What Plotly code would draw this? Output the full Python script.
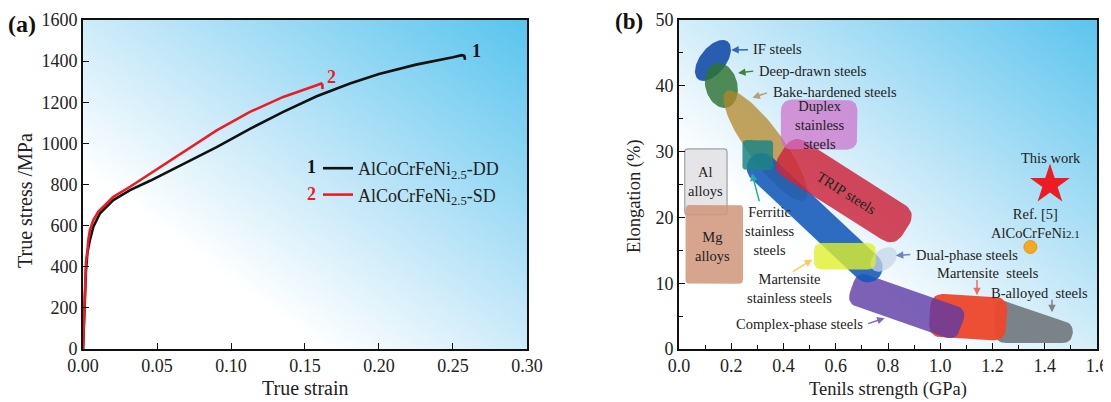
import base64
import numpy as np
import plotly.graph_objects as go

# ------------------------------------------------------------------
# Panel (a): true stress-strain curves
# ------------------------------------------------------------------
strain_dd = [0, 0.001, 0.002, 0.003, 0.0038, 0.0047, 0.007, 0.0115, 0.0205, 0.0318,
             0.0453, 0.0678, 0.0903, 0.1128, 0.1353, 0.1579, 0.1804, 0.20, 0.225, 0.25,
             0.2559, 0.2576, 0.2582]
stress_dd = [0, 200, 380, 470, 505, 531, 595, 660, 724, 773,
             818, 901, 982, 1071, 1153, 1229, 1291, 1337, 1383, 1419,
             1429, 1426, 1407]
strain_sd = [0, 0.001, 0.002, 0.003, 0.0036, 0.0047, 0.007, 0.0104, 0.0205, 0.0318,
             0.0453, 0.0678, 0.0903, 0.1128, 0.1353, 0.1579, 0.1610, 0.1617, 0.1619]
stress_sd = [0, 220, 420, 480, 531, 579, 627, 668, 740, 789,
             852, 958, 1063, 1153, 1226, 1283, 1291, 1286, 1264]
name_dd = "AlCoCrFeNi<sub>2.5</sub>-DD"
name_sd = "AlCoCrFeNi<sub>2.5</sub>-SD"
a_xticks = [0.00, 0.05, 0.10, 0.15, 0.20, 0.25, 0.30]
a_yticks = [0, 200, 400, 600, 800, 1000, 1200, 1400, 1600]
a_xtitle = "True strain"
a_ytitle = "True stress /MPa"

# ------------------------------------------------------------------
# Panel (b): elongation vs tensile strength map (GPa, %)
# ------------------------------------------------------------------
rect_names = ["Al alloys", "Mg alloys", "Duplex stainless steels",
              "Ferritic stainless steels", "Martensite stainless steels"]
rect_x0 = [0.022, 0.025, 0.390, 0.243, 0.517]
rect_x1 = [0.184, 0.245, 0.683, 0.360, 0.753]
rect_y0 = [20.4, 9.9, 30.3, 27.2, 12.1]
rect_y1 = [30.4, 21.9, 37.9, 31.75, 16.1]

ell_names = ["IF steels", "Deep-drawn steels", "Bake-hardened steels"]
ell_x = [0.130, 0.162, 0.331]
ell_y = [43.85, 40.07, 30.9]

trip_x = [0.437, 0.911, 0.825, 0.351]
trip_y = [32.72, 20.77, 15.42, 27.37]
complex_x = [0.682, 1.103, 1.061, 0.640]
complex_y = [11.80, 6.06, 1.20, 6.94]
mart_x = [0.964, 1.259, 1.250, 0.955]
mart_y = [8.46, 7.86, 1.21, 1.82]
balloy_x = [1.208, 1.511, 1.503, 1.208]
balloy_y = [7.79, 3.78, 0.91, 0.91]
dual_x = [0.3166, 0.7224]
dual_y = [27.52, 12.40]

this_work_x, this_work_y = [1.42], [25.0]
ref5_x, ref5_y = [1.345], [15.5]

b_xticks = [0.0, 0.2, 0.4, 0.6, 0.8, 1.0, 1.2, 1.4, 1.6]
b_yticks = [0, 10, 20, 30, 40, 50]
b_xtitle = "Tenils strength (GPa)"
b_ytitle = "Elongation (%)"

# ------------------------------------------------------------------
# layout geometry (the page body has an 8px margin)
# ------------------------------------------------------------------
OFF = 8
W, H = 1111 - OFF, 402 - OFF


def pxx(x):
    return (x - OFF) / W


def pxy(y):
    return 1 - (y - OFF) / H


DOM_Y = [pxy(349), pxy(20)]
DOM_XA = [pxx(83), pxx(527)]
DOM_XB = [pxx(679), pxx(1097)]
SXB = (DOM_XB[1] - DOM_XB[0]) * W / 1.6      # px per GPa
SYB = (DOM_Y[1] - DOM_Y[0]) * H / 50.0       # px per %

FONT = "Liberation Serif, Times New Roman, serif"


def px(v, e):
    return np.array([v * SXB, e * SYB], float)


def to_data(pts):
    pts = np.array(pts)
    return list(pts[:, 0] / SXB), list(pts[:, 1] / SYB)


def rounded(verts, r, n=10):
    out = []
    N = len(verts)
    for i in range(N):
        P, V, Q = verts[i - 1], verts[i], verts[(i + 1) % N]
        d1 = P - V
        d2 = Q - V
        l1, l2 = np.hypot(*d1), np.hypot(*d2)
        rr = min(r, l1 / 2, l2 / 2)
        A = V + d1 / l1 * rr
        B = V + d2 / l2 * rr
        for t in np.linspace(0, 1, n):
            out.append((1 - t) ** 2 * A + 2 * (1 - t) * t * V + t ** 2 * B)
    out.append(out[0])
    return out


def ellipse(c, a, b, ang, n=80):
    th = np.linspace(0, 2 * np.pi, n)
    ca, sa = np.cos(np.radians(ang)), np.sin(np.radians(ang))
    x = a * np.cos(th)
    y = b * np.sin(th)
    return [c + np.array([x[i] * ca - y[i] * sa, x[i] * sa + y[i] * ca]) for i in range(n)]


def capsule(p0, p1, hw, n=30):
    d = p1 - p0
    phi = np.arctan2(d[1], d[0])
    pts = []
    for t in np.linspace(phi - np.pi / 2, phi + np.pi / 2, n):
        pts.append(p1 + hw * np.array([np.cos(t), np.sin(t)]))
    for t in np.linspace(phi + np.pi / 2, phi + 3 * np.pi / 2, n):
        pts.append(p0 + hw * np.array([np.cos(t), np.sin(t)]))
    pts.append(pts[0])
    return pts


fig = go.Figure()


def add_region(pts, fill, line_color=None, line_width=0):
    xs, ys = to_data(pts)
    fig.add_trace(go.Scatter(
        x=xs, y=ys, mode="lines", fill="toself", fillcolor=fill,
        line=dict(width=line_width, color=line_color or fill),
        hoverinfo="skip", showlegend=False, xaxis="x2", yaxis="y2"))


def rect_pts(i, r):
    v = [px(rect_x0[i], rect_y1[i]), px(rect_x1[i], rect_y1[i]),
         px(rect_x1[i], rect_y0[i]), px(rect_x0[i], rect_y0[i])]
    return rounded(v, r)


# ---- panel (a) curves
fig.add_trace(go.Scatter(x=strain_dd, y=stress_dd, mode="lines", name=name_dd,
                         line=dict(color="#111111", width=2.6),
                         xaxis="x", yaxis="y"))
fig.add_trace(go.Scatter(x=strain_sd, y=stress_sd, mode="lines", name=name_sd,
                         line=dict(color="#ec1c24", width=2.6),
                         xaxis="x", yaxis="y"))

# ---- panel (b) regions (drawing order matters)
ell_geom = [(24, 13, 52), (23, 16, 105), (67, 18, -54)]
ell_fill = ["rgba(25,80,170,0.92)", "rgba(45,115,50,0.82)", "rgba(178,135,40,0.75)"]

add_region(rect_pts(0, 3), "rgb(229,229,232)", "rgb(160,160,166)", 1.2)   # Al
add_region(rect_pts(1, 4), "rgba(208,148,122,0.85)")                       # Mg
for i in range(3):
    a, b, ang = ell_geom[i]
    add_region(ellipse(px(ell_x[i], ell_y[i]), a, b, ang), ell_fill[i])

add_region(rounded([px(x, y) for x, y in zip(balloy_x, balloy_y)], 12), "rgb(122,130,138)")
add_region(rounded([px(x, y) for x, y in zip(mart_x, mart_y)], 14), "rgba(236,72,45,0.96)")
add_region(rounded([px(x, y) for x, y in zip(complex_x, complex_y)], 12), "rgba(92,58,165,0.80)")
add_region(capsule(px(dual_x[0], dual_y[0]), px(dual_x[1], dual_y[1]), 15), "rgba(18,88,185,0.88)")
add_region(ellipse(px(dual_x[1], dual_y[1]) + np.array([16, 8]), 15, 10, 40),
           "rgba(200,214,230,0.75)")
add_region(rect_pts(3, 4), "rgba(30,132,132,0.85)")                        # Ferritic
add_region(rounded([px(x, y) for x, y in zip(trip_x, trip_y)], 16), "rgba(205,40,62,0.85)")
add_region(rect_pts(2, 12), "rgba(205,108,200,0.70)")                      # Duplex
add_region(rect_pts(4, 8), "rgba(222,240,45,0.80)")                        # Mart. stainless

fig.add_trace(go.Scatter(x=this_work_x, y=this_work_y, mode="markers",
                         marker=dict(symbol="star", size=30, color="#ec1c24", line=dict(width=0)),
                         hoverinfo="skip", showlegend=False, xaxis="x2", yaxis="y2"))
fig.add_trace(go.Scatter(x=ref5_x, y=ref5_y, mode="markers",
                         marker=dict(symbol="circle", size=13, color="#f7a823",
                                     line=dict(width=0.8, color="#e08a10")),
                         hoverinfo="skip", showlegend=False, xaxis="x2", yaxis="y2"))

# ---- annotations
ann = []
TXT = "#222222"


def label(text, x, y, xa="center", size=14.5, color=TXT, angle=0):
    ann.append(dict(text=text, x=x, y=y, xref="x2", yref="y2", xanchor=xa, yanchor="middle",
                    showarrow=False, textangle=angle,
                    font=dict(family=FONT, size=size, color=color)))


def arrow(x0, y0, x1, y1, color):
    ann.append(dict(text="", x=x1, y=y1, ax=x0, ay=y0, xref="x2", yref="y2",
                    axref="x2", ayref="y2", showarrow=True, arrowhead=2, arrowsize=1,
                    arrowwidth=1.5, arrowcolor=color))


def paper_text(text, x, y, size, color=TXT, angle=0, xa="center"):
    ann.append(dict(text=text, x=pxx(x), y=pxy(y), xref="paper", yref="paper",
                    xanchor=xa, yanchor="middle", showarrow=False, textangle=angle,
                    font=dict(family=FONT, size=size, color=color)))


label("IF steels", 0.274, 45.66, "left")
arrow(0.270, 45.5, 0.200, 45.45, "rgb(50,100,200)")
label("Deep-drawn steels", 0.297, 42.26, "left")
arrow(0.290, 42.26, 0.226, 41.93, "rgb(60,130,60)")
label("Bake-hardened steels", 0.351, 39.05, "left")
arrow(0.343, 39.0, 0.281, 38.2, "rgb(180,160,120)")
label("Duplex<br>stainless<br>steels", 0.537, 34.0)
label("Al<br>alloys", 0.102, 25.45)
label("Mg<br>alloys", 0.130, 15.6)
label("Ferritic<br>stainless<br>steels", 0.347, 18.0)
arrow(0.309, 22.2, 0.279, 26.7, "rgb(40,170,170)")
label("TRIP steels", 0.641, 23.7, angle=32)
label("Martensite<br>stainless steels", 0.424, 9.13)
arrow(0.430, 11.6, 0.510, 13.6, "rgb(250,205,90)")
label("Complex-phase steels", 0.462, 3.78)
arrow(0.7185, 3.78, 0.787, 4.69, "rgb(130,100,200)")
label("Dual-phase steels", 0.898, 14.36, "left")
arrow(0.891, 14.36, 0.830, 14.2, "rgb(110,130,190)")
label("Martensite  steels", 1.183, 11.49)
arrow(1.1407, 10.73, 1.1407, 8.16, "rgb(235,110,100)")
label("B-alloyed  steels", 1.381, 8.47)
arrow(1.4278, 7.71, 1.4278, 5.59, "rgb(130,130,130)")
label("This work", 1.4255, 28.98)
label("Ref. [5]<br>AlCoCrFeNi<span style='font-size:11px'>2.1</span>", 1.365, 19.05)

# panel (a) curve tags and legend numbers
ann.append(dict(text="<b>1</b>", x=0.266, y=1450, xref="x", yref="y", showarrow=False,
                font=dict(family=FONT, size=18, color="#111111")))
ann.append(dict(text="<b>2</b>", x=0.168, y=1323, xref="x", yref="y", showarrow=False,
                font=dict(family=FONT, size=18, color="#ec1c24")))
paper_text("<b>1</b>", 311, 167, 18, "#111111")
paper_text("<b>2</b>", 311, 194, 18, "#ec1c24")
paper_text("<b>(a)</b>", 6, 24, 24, "#111111", xa="left")
paper_text("<b>(b)</b>", 613, 21, 23, "#111111", xa="left")

# axis titles
paper_text(a_xtitle, 305, 388, 20)
paper_text(a_ytitle, 25, 201, 20, angle=-90)
paper_text(b_xtitle, 888, 389, 18.5)
paper_text(b_ytitle, 634, 196, 18.5, angle=-90)

# ---- gradient backgrounds (svg images)


def grad_svg(stops):
    s = "".join(f'<stop offset="{o}" stop-color="{c}"/>' for o, c in stops)
    svg = ('<svg xmlns="http://www.w3.org/2000/svg" width="400" height="300" '
           'viewBox="0 0 400 300" preserveAspectRatio="none"><defs>'
           f'<linearGradient id="g" x1="0" y1="1" x2="1" y2="0">{s}</linearGradient></defs>'
           '<rect width="400" height="300" fill="url(#g)"/></svg>')
    return "data:image/svg+xml;base64," + base64.b64encode(svg.encode()).decode()


bg_a = grad_svg([(0, "#ffffff"), (0.27, "#ffffff"), (0.55, "#c2e7f8"), (1, "#58c4ee")])
bg_b = grad_svg([(0, "#ffffff"), (0.3, "#ffffff"), (0.55, "#c8e9f8"), (1, "#5cc4ee")])
images = [
    dict(source=bg_a, xref="x domain", yref="y domain", x=0, y=1, sizex=1, sizey=1,
         xanchor="left", yanchor="top", sizing="stretch", layer="below"),
    dict(source=bg_b, xref="x2 domain", yref="y2 domain", x=0, y=1, sizex=1, sizey=1,
         xanchor="left", yanchor="top", sizing="stretch", layer="below"),
]

axis_common = dict(showline=True, mirror=True, linecolor="#111111", linewidth=1.6,
                   ticks="inside", ticklen=6, tickwidth=1.3, tickcolor="#111111",
                   showgrid=False, zeroline=False, automargin=False,
                   ticklabeloverflow="allow",
                   tickfont=dict(family=FONT, size=18, color="#222222"))

fig.update_layout(
    width=W, height=H, margin=dict(l=0, r=0, t=0, b=0, autoexpand=False),
    paper_bgcolor="white", plot_bgcolor="white",
    hovermode=False,
    images=images,
    annotations=ann,
    showlegend=True,
    legend=dict(x=pxx(318), y=pxy(150), xanchor="left", yanchor="top",
                bgcolor="rgba(0,0,0,0)", tracegroupgap=0,
                font=dict(family=FONT, size=18, color="#222222")),
    xaxis=dict(domain=DOM_XA, range=[0, 0.30001], tickvals=a_xticks, tickformat=".2f",
               anchor="y", **axis_common),
    yaxis=dict(domain=DOM_Y, range=[0, 1600.01], tickvals=a_yticks,
               anchor="x", **axis_common),
    xaxis2=dict(domain=DOM_XB, range=[0, 1.60001], tickvals=b_xticks, tickformat=".1f",
                minor=dict(dtick=0.1, ticks="inside", ticklen=4, tickcolor="#111111"),
                anchor="y2", **axis_common),
    yaxis2=dict(domain=DOM_Y, range=[0, 50.001], tickvals=b_yticks,
                minor=dict(dtick=5, ticks="inside", ticklen=4, tickcolor="#111111"),
                anchor="x2", **axis_common),
)

fig.write_html("out.html")
